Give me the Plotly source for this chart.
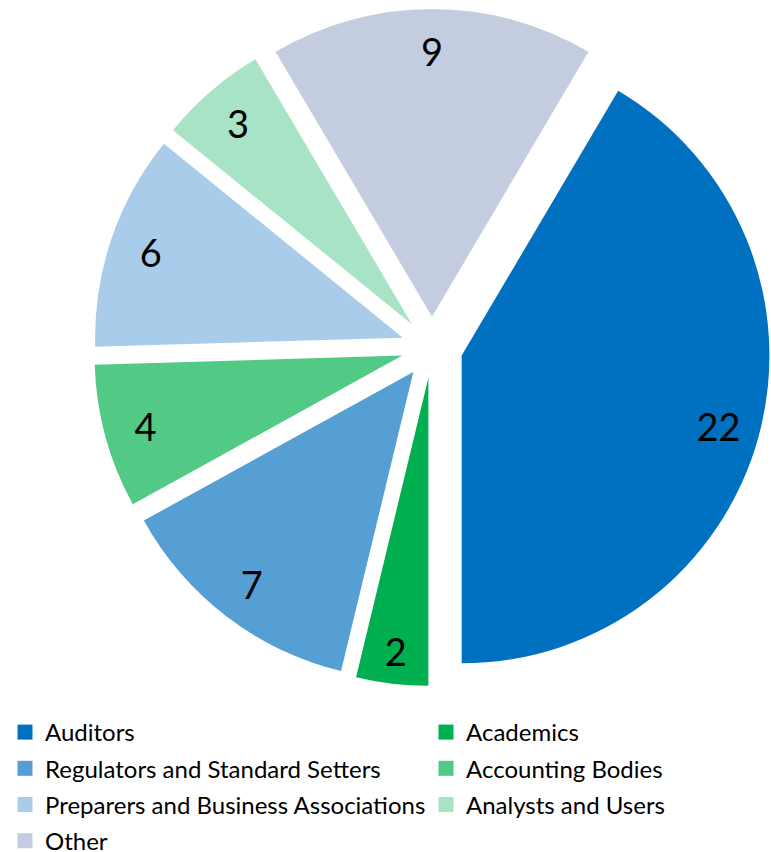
import plotly.graph_objects as go

categories = ["Auditors", "Academics", "Regulators and Standard Setters", "Accounting Bodies",
              "Preparers and Business Associations", "Analysts and Users", "Other"]
values = [22, 2, 7, 4, 6, 3, 9]
colors = ["#0070C0", "#00B050", "#559FD4", "#52C985", "#A9CCEA", "#A9E3C5", "#C4CDE0"]
pulls = [0.1, 0.1, 0.1, 0.1, 0.1, 0.1, 0.1]
# legend columns (Excel-style two-column legend, row-major)
legend_col1 = ["Auditors", "Regulators and Standard Setters", "Preparers and Business Associations", "Other"]
legend_col2 = ["Academics", "Accounting Bodies", "Analysts and Users"]

W, H = 771, 852
cx, cy, R = 432, 347.5, 338.5
rotation = 360 * values[-1] / sum(values) / 2
domain = dict(x=[max((cx - R) / W, 0), min((cx + R) / W, 1)],
              y=[max(1 - (cy + R) / H, 0), min(1 - (cy - R) / H, 1)])

fig = go.Figure()

# slices
fig.add_trace(go.Pie(
    labels=categories, values=values, sort=False, direction="clockwise",
    rotation=rotation, pull=pulls,
    marker=dict(colors=colors, line=dict(width=0)),
    textinfo="none", showlegend=False, domain=domain,
    hoverinfo="label+value",
))

# value labels (same pie geometry, transparent, ring used to push labels outward)
fig.add_trace(go.Pie(
    labels=categories, values=values, sort=False, direction="clockwise",
    rotation=rotation, pull=pulls, hole=0.73,
    marker=dict(colors=["rgba(0,0,0,0)"] * len(values), line=dict(width=0)),
    textinfo="value", textposition="inside", insidetextorientation="horizontal",
    textfont=dict(family="Lato", size=38, color="black"),
    showlegend=False, domain=domain, hoverinfo="skip",
))

# legend entries
color_of = dict(zip(categories, colors))
for legend_id, col in (("legend", legend_col1), ("legend2", legend_col2)):
    for name in col:
        fig.add_trace(go.Scatter(
            x=[None], y=[None], mode="markers", name=name,
            marker=dict(symbol="square", size=15, color=color_of[name], line=dict(width=0)),
            legend=legend_id, legendgroup=name, showlegend=True, hoverinfo="skip",
        ))

leg_common = dict(
    orientation="v", xanchor="left", yanchor="top",
    font=dict(family="Lato", size=24, color="black"),
    tracegroupgap=2, bgcolor="rgba(0,0,0,0)", borderwidth=0,
    itemclick=False, itemdoubleclick=False,
)

fig.update_layout(
    width=W, height=H,
    margin=dict(l=0, r=0, t=0, b=0, autoexpand=False),
    paper_bgcolor="white",
    plot_bgcolor="white",
    showlegend=True,
    xaxis=dict(visible=False),
    yaxis=dict(visible=False),
    legend=dict(x=5 / W, y=1 - 710 / H, **leg_common),
    legend2=dict(x=426 / W, y=1 - 710 / H, **leg_common),
)

fig.write_html("out.html", config={"displayModeBar": False},
               post_script="document.body.style.margin='0';")
